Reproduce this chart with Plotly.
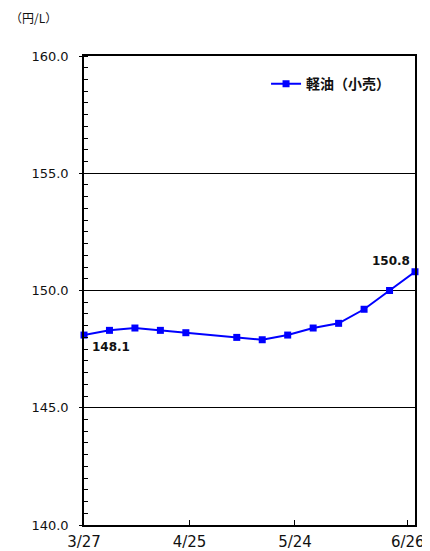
import plotly.graph_objects as go

dates = ["2023-03-27", "2023-04-03", "2023-04-10", "2023-04-17", "2023-04-24",
         "2023-05-08", "2023-05-15", "2023-05-22", "2023-05-29", "2023-06-05",
         "2023-06-12", "2023-06-19", "2023-06-26"]
values = [148.1, 148.3, 148.4, 148.3, 148.2, 148.0, 147.9, 148.1, 148.4, 148.6,
          149.2, 150.0, 150.8]
series_name = "軽油（小売）"
tick_dates = ["2023-03-27", "2023-04-25", "2023-05-24", "2023-06-24"]
tick_labels = ["3/27", "4/25", "5/24", "6/26"]
y_ticks = [140, 145, 150, 155, 160]

FONT = "'DejaVu Sans', 'Noto Sans CJK JP', sans-serif"
CJK = "'Noto Sans CJK JP', sans-serif"

# page body has an 8px margin; compensate
W, H = 422, 543
L, R, T, B = 76, 15, 48, 26

fig = go.Figure()
fig.add_trace(go.Scatter(
    x=dates, y=values, name=series_name, mode="lines+markers",
    line=dict(color="#0000FF", width=2),
    marker=dict(symbol="square", size=7, color="#0000FF"),
    cliponaxis=False,
))

fig.add_annotation(x=dates[0], y=values[0], text=f"{values[0]:.1f}",
                   showarrow=False, xanchor="left", yanchor="middle",
                   xshift=6, yshift=-12,
                   font=dict(family=FONT, size=12, color="#111111", weight="bold"))
fig.add_annotation(x=dates[-1], y=values[-1], text=f"{values[-1]:.1f}",
                   showarrow=False, xanchor="right", yanchor="middle",
                   xshift=-3, yshift=11,
                   font=dict(family=FONT, size=12, color="#111111", weight="bold"))

fig.update_layout(
    width=W, height=H,
    margin=dict(l=L, r=R, t=T, b=B, autoexpand=False),
    paper_bgcolor="white", plot_bgcolor="white",
    font=dict(family=FONT, color="#111111"),
    showlegend=True,
    legend=dict(x=0.55, y=0.94, xanchor="left", yanchor="middle",
                bgcolor="rgba(0,0,0,0)",
                font=dict(family=CJK, size=14, color="#111111", weight="bold"),
                itemwidth=30),
    xaxis=dict(
        type="date", range=["2023-03-27", "2023-06-26"],
        tickvals=tick_dates, ticktext=tick_labels,
        ticks="inside", ticklen=5, tickcolor="#000000",
        showgrid=False, showline=True, linecolor="#000000", linewidth=1.5,
        mirror=True, tickfont=dict(size=15, color="#111111"),
        automargin=False, ticklabelstandoff=2,
    ),
    yaxis=dict(
        range=[140, 160], tickvals=y_ticks,
        tickformat=".1f", ticks="outside", ticklen=3, tickcolor="#000000",
        minor=dict(dtick=0.5, ticks="inside", ticklen=4, tickcolor="#000000"),
        showgrid=True, gridcolor="#000000", gridwidth=1,
        showline=True, linecolor="#000000", linewidth=1.5, mirror=True,
        tickfont=dict(size=13, color="#111111"), ticklabelstandoff=8,
        automargin=False,
    ),
)

fig.add_annotation(text="（円/L）", xref="paper", yref="paper",
                   x=-L / (W - L - R), y=1 + (T - 9) / (H - T - B),
                   xanchor="left", yanchor="middle",
                   showarrow=False, font=dict(family=CJK, size=12, color="#111111"))

fig.write_html("out.html")
